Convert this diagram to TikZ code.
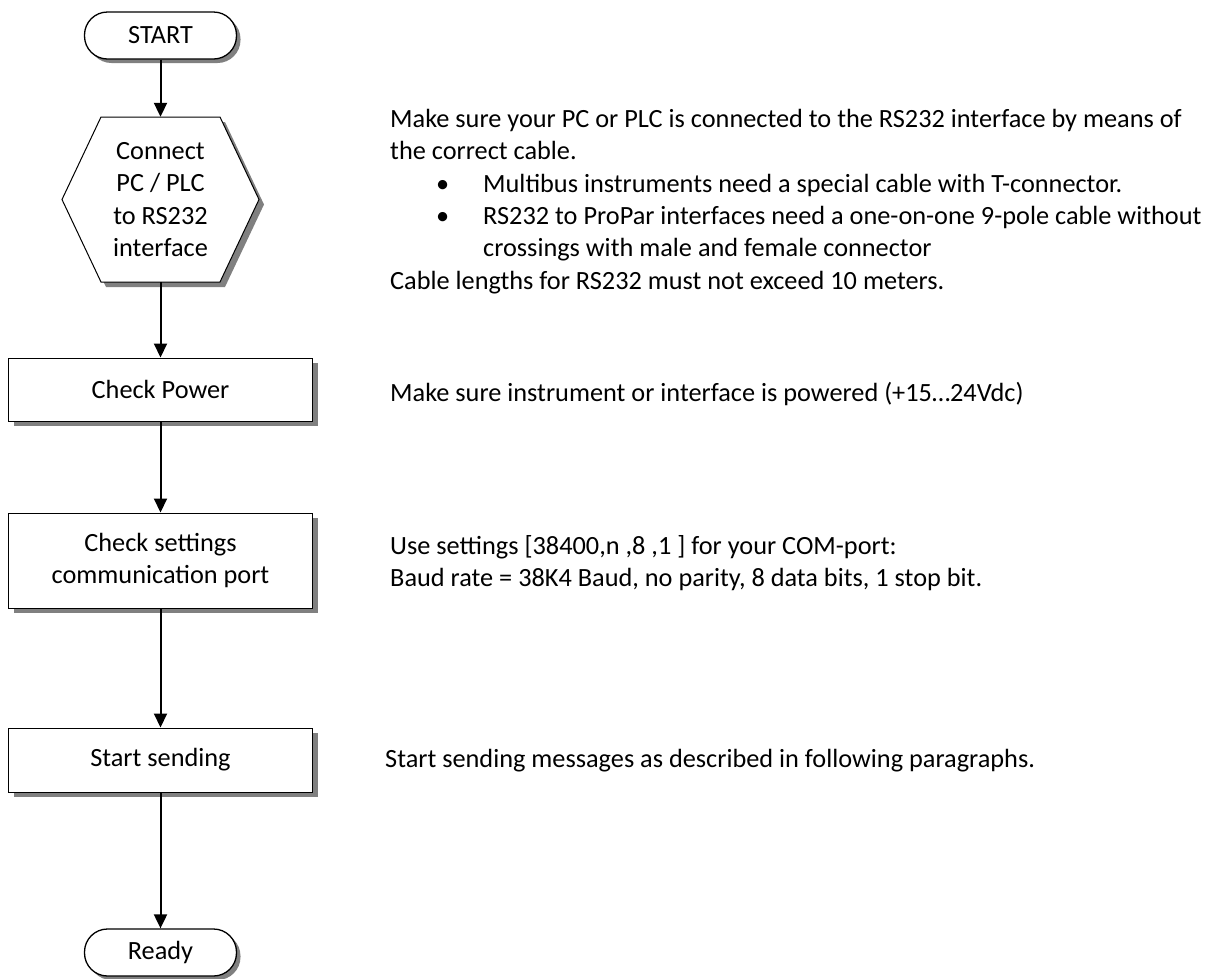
\documentclass[tikz,border=0pt]{standalone}
\usepackage{fontspec}
\setmainfont{Carlito}
\usetikzlibrary{shadows,arrows.meta,calc}
\begin{document}
\begin{tikzpicture}[x=1pt,y=-1pt,
  every node/.style={font=\fontsize{26.3}{32.3}\selectfont, inner sep=0pt},
  term/.style={draw=black, line width=1.3pt, fill=white, rounded corners=23pt,
    minimum width=152pt, minimum height=47pt,
    drop shadow={shadow xshift=4pt,shadow yshift=-4pt,fill=black!50,opacity=1}},
  procbox/.style={draw=black, line width=1pt, fill=white, minimum width=304pt,
    drop shadow={shadow xshift=5pt,shadow yshift=-5pt,fill=black!50,opacity=1}},
  flow/.style={line width=2pt, -{Triangle[width=13pt,length=14pt]}},
  note/.style={anchor=base west},
]
\useasboundingbox (0,0) rectangle (1232,978);

% flowchart
\node[term] (start) at (160.5,35.5) {START};

\coordinate (hexc) at (160.5,199.5);
\fill[black!50] ([shift={(5,5)}]hexc) ++(-59.5,-82.5) -- ++(119,0) -- ++(39,82.5)
  -- ++(-39,82.5) -- ++(-119,0) -- ++(-39,-82.5) -- cycle;
\draw[line width=1pt, fill=white] (hexc) ++(-59.5,-82.5) -- ++(119,0) -- ++(39,82.5)
  -- ++(-39,82.5) -- ++(-119,0) -- ++(-39,-82.5) -- cycle;
\node[minimum width=197pt, minimum height=165pt, align=center] (hex) at (hexc)
  {Connect\\PC / PLC\\to RS232\\interface};

\node[procbox, minimum height=63pt] (power) at (160.5,389.5) {Check Power};
\node[procbox, minimum height=95pt, align=center] (settings) at (160.5,560.5)
  {Check settings\\communication port};
\node[procbox, minimum height=64pt] (sending) at (160.5,760) {Start sending};
\node[term] (ready) at (160.5,952.5) {Ready};

\draw[flow] (start.south) -- (hex.north);
\draw[flow] (hex.south) -- (power.north);
\draw[flow] (power.south) -- (settings.north);
\draw[flow] (settings.south) -- (sending.north);
\draw[flow] (sending.south) -- (ready.north);

% notes
\node[note] (p1a) at (390,127.5) {Make sure your PC or PLC is connected to the RS232 interface by means of};
\node[note] (p1b) at (390,159.8) {the correct cable.};
\node[note] (b1m) at (436,192) {•};
\node[note] (b1) at (483,192) {Multibus instruments need a special cable with T-connector.};
\node[note] (b2m) at (436,224.5) {•};
\node[note] (b2) at (483,224.5) {RS232 to ProPar interfaces need a one-on-one 9-pole cable without};
\node[note] (b2c) at (483,256.8) {crossings with male and female connector};
\node[note] (p1c) at (390,289) {Cable lengths for RS232 must not exceed 10 meters.};

\node[note] (p2) at (390,401) {Make sure instrument or interface is powered (+15…24Vdc)};

\node[note] (p3a) at (390,554) {Use settings [38400,n ,8 ,1 ] for your COM-port:};
\node[note] (p3b) at (390,586.3) {Baud rate = 38K4 Baud, no parity, 8 data bits, 1 stop bit.};

\node[note] (p4) at (385,767) {Start sending messages as described in following paragraphs.};
\end{tikzpicture}
\end{document}
